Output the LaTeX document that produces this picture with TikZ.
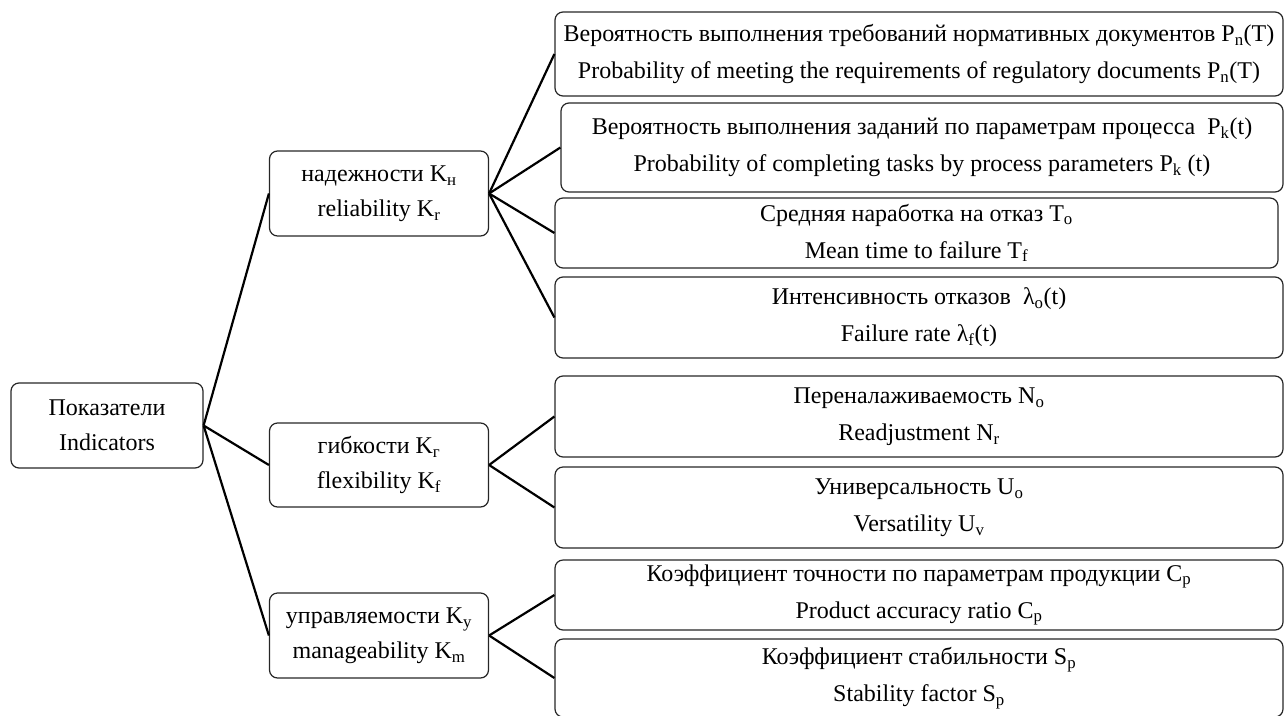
\documentclass[tikz,border=0pt]{standalone}
\usepackage{fontspec}
\setmainfont{Liberation Serif}
\usepackage{tikz}

\newcommand{\sub}[1]{\textsubscript{#1}}

\begin{document}
\begin{tikzpicture}[x=1pt,y=-1pt,
  box/.style={draw=black!85,line width=1.2pt,rounded corners=8pt,inner sep=0pt,align=center,
    font=\fontsize{24}{37}\selectfont},
  lbox/.style={box,minimum width=219,minimum height=85,font=\fontsize{24}{35}\selectfont},
  link/.style={line width=2.2pt,black}]
\path[use as bounding box] (0,0) rectangle (1284,715);

\newcommand{\rw}{728}

% root and the three groups
\node[lbox,minimum width=192] (ind) at (107,425.5) {Показатели\\Indicators};
\node[lbox] (rel) at (379,193.5) {надежности K\sub{н}\\reliability K\sub{r}};
\node[lbox,minimum height=84] (flex) at (379,465) {гибкости K\sub{г}\\flexibility K\sub{f}};
\node[lbox] (man) at (379,635.5) {управляемости K\sub{у}\\manageability K\sub{m}};

% indicators
\node[box,minimum width=\rw,minimum height=84] (pn) at (919,54)
  {Вероятность выполнения требований нормативных документов P\sub{n}(T)\\
   Probability of meeting the requirements of regulatory documents P\sub{n}(T)};
\node[box,minimum width=722,minimum height=89] (pk) at (922,147.5)
  {Вероятность выполнения заданий по параметрам процесса~ P\sub{k}(t)\\
   Probability of completing tasks by process parameters P\sub{k} (t)};
\node[box,minimum width=723,minimum height=70] (to) at (916.5,233)
  {Средняя наработка на отказ T\sub{o}\\Mean time to failure T\sub{f}};
\node[box,minimum width=\rw,minimum height=81] (lam) at (919,317.5)
  {Интенсивность отказов~ λ\sub{o}(t)\\Failure rate λ\sub{f}(t)};
\node[box,minimum width=\rw,minimum height=81] (no) at (919,416.5)
  {Переналаживаемость N\sub{o}\\Readjustment N\sub{r}};
\node[box,minimum width=\rw,minimum height=81] (uo) at (919,507.5)
  {Универсальность U\sub{o}\\Versatility U\sub{v}};
\node[box,minimum width=\rw,minimum height=70] (cp) at (919,595)
  {Коэффициент точности по параметрам продукции C\sub{p}\\Product accuracy ratio C\sub{p}};
\node[box,minimum width=\rw,minimum height=78] (sp) at (919,678)
  {Коэффициент стабильности S\sub{p}\\Stability factor S\sub{p}};

\draw[link] (ind.east) -- (rel.west);
\draw[link] (ind.east) -- (flex.west);
\draw[link] (ind.east) -- (man.west);
\draw[link] (rel.east) -- (pn.west);
\draw[link] (rel.east) -- (pk.west);
\draw[link] (rel.east) -- (to.west);
\draw[link] (rel.east) -- (lam.west);
\draw[link] (flex.east) -- (no.west);
\draw[link] (flex.east) -- (uo.west);
\draw[link] (man.east) -- (cp.west);
\draw[link] (man.east) -- (sp.west);
\end{tikzpicture}
\end{document}
